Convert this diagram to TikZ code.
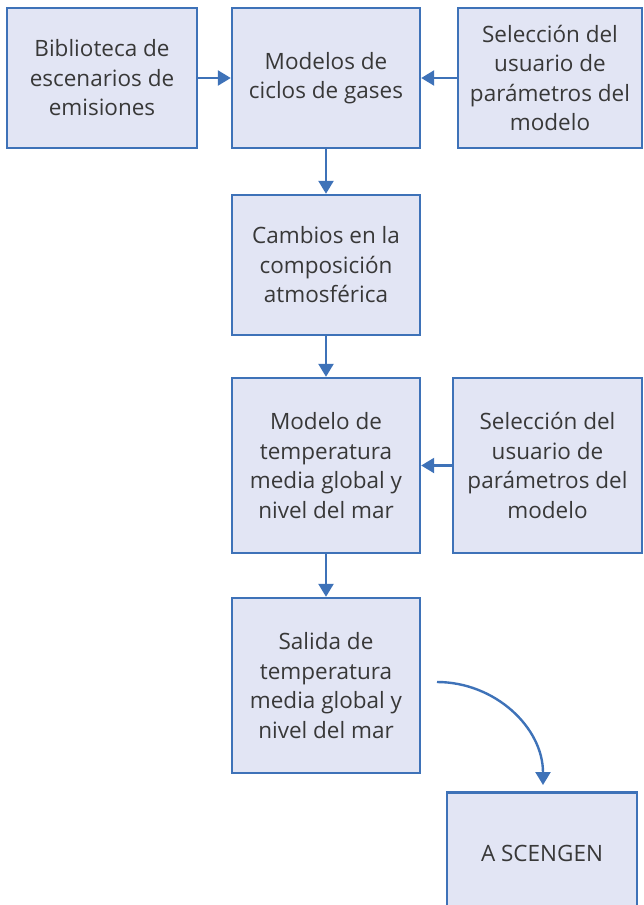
\documentclass[tikz,border=0pt]{standalone}
\usepackage{fontspec}
\setmainfont{Open Sans}
\usetikzlibrary{arrows.meta}
\definecolor{boxfill}{HTML}{E2E5F4}
\definecolor{boxline}{HTML}{3E72B8}
\tikzset{
  caja/.style={draw=boxline,fill=boxfill,line width=2.4pt,align=center,
    font=\fontsize{22.5}{29.5}\selectfont,text=black!78,inner sep=0pt},
  flecha/.style={draw=boxline,line width=2.4pt,-{Triangle[length=13pt,width=15pt]}}
}
\begin{document}
\begin{tikzpicture}[x=1pt,y=-1pt]
        \useasboundingbox (0,0) rectangle (644,905);
        \node[caja,minimum width=190pt,minimum height=140pt] (bib) at (102,78) {Biblioteca de\\escenarios de\\emisiones};
        \node[caja,minimum width=188pt,minimum height=140pt] (ciclos) at (326,78) {Modelos de\\ciclos de gases};
        \node[caja,minimum width=184pt,minimum height=140pt] (sel1) at (550,78) {Selección del\\usuario de\\parámetros del\\modelo};
        \node[caja,minimum width=188pt,minimum height=140pt] (comp) at (326,265) {Cambios en la\\composición\\atmosférica};
        \node[caja,minimum width=188pt,minimum height=175pt] (temp) at (326,465.5) {Modelo de\\temperatura\\media global y\\nivel del mar};
        \node[caja,minimum width=189pt,minimum height=175pt] (sel2) at (547.5,465.5) {Selección del\\usuario de\\parámetros del\\modelo};
        \node[caja,minimum width=188pt,minimum height=175pt] (salida) at (326,685.5) {Salida de\\temperatura\\media global y\\nivel del mar};
        \node[caja,minimum width=190pt,minimum height=122pt] (scen) at (542,853.5) {A SCENGEN};
        % conexiones
        \draw[flecha] (bib.east)--(ciclos.west);
        \draw[flecha] (sel1.west)--(ciclos.east);
        \draw[flecha] (ciclos.south)--(comp.north);
        \draw[flecha] (comp.south)--(temp.north);
        \draw[flecha] (sel2.west)--(temp.east);
        \draw[flecha] (temp.south)--(salida.north);
        \coordinate (inicio) at (437,682);
        \draw[flecha] (inicio) to[out=0,in=90] (543,785);
\end{tikzpicture}
\end{document}
